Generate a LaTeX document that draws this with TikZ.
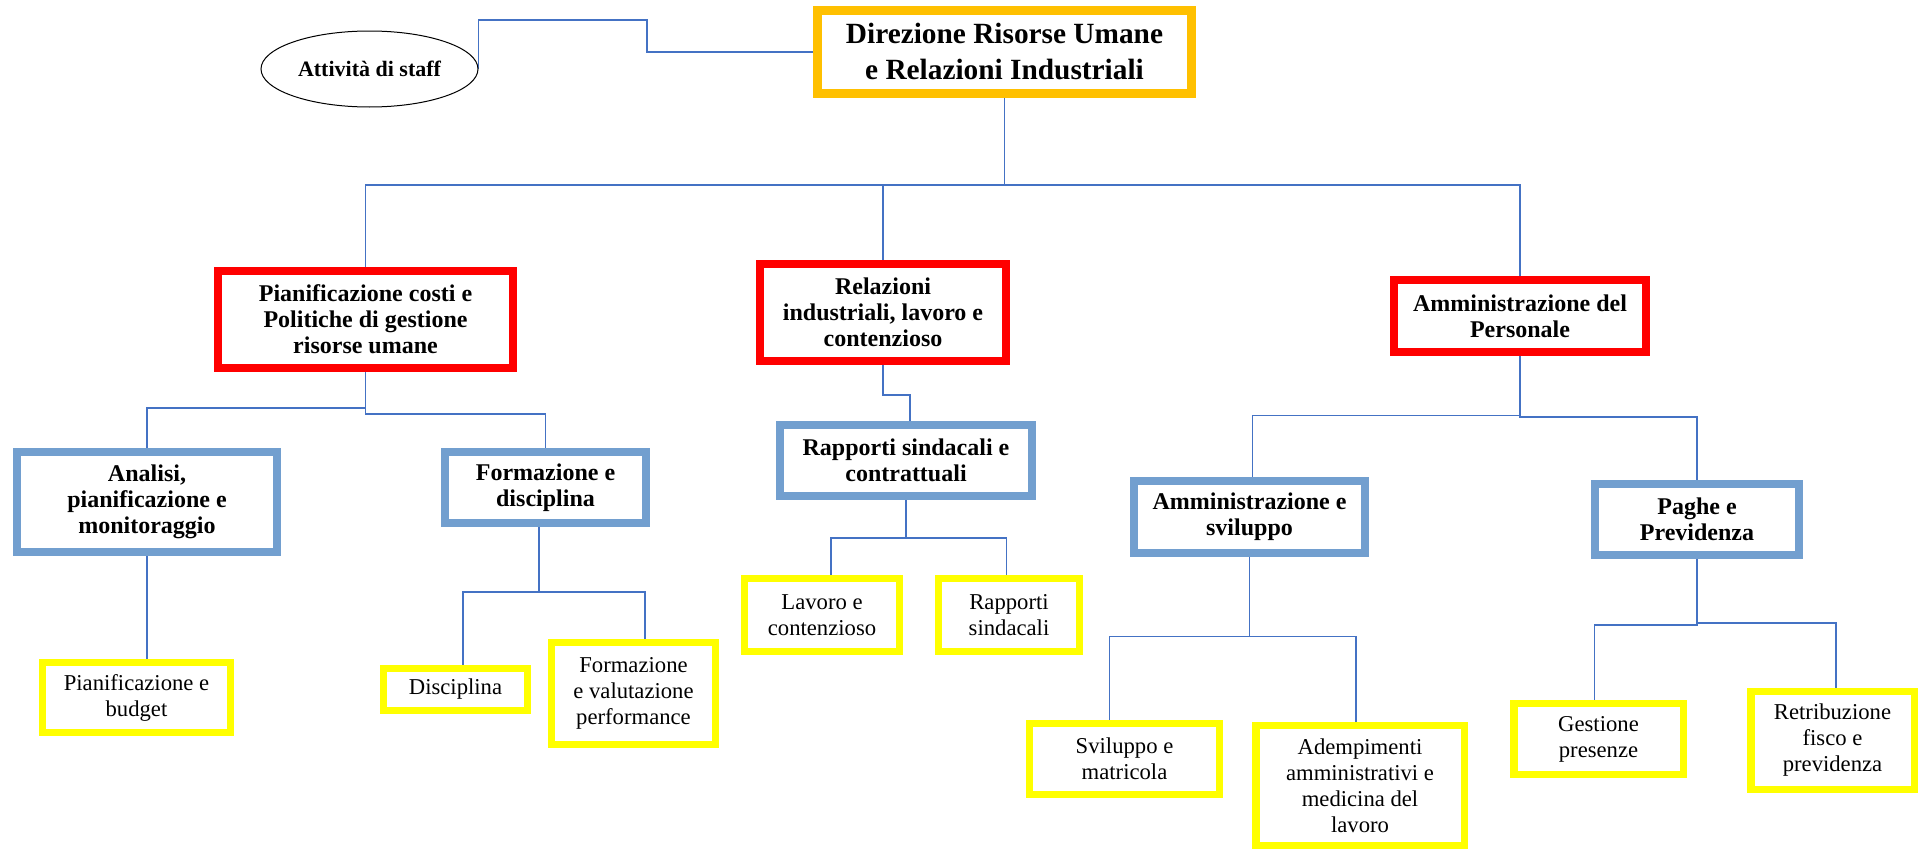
\documentclass[tikz,border=0pt]{standalone}
\usepackage{fontspec}
\setmainfont{Liberation Serif}
\usetikzlibrary{backgrounds,shapes.geometric}
\definecolor{goldc}{RGB}{255,192,0}
\definecolor{redc}{RGB}{255,0,0}
\definecolor{bluec}{RGB}{114,159,207}
\definecolor{yelc}{RGB}{255,255,0}
\definecolor{linec}{RGB}{68,114,196}
\tikzset{
  base/.style={fill=white, align=center, inner sep=0pt},
  sz/.style 2 args={minimum width=#1*0.75pt, minimum height=#2*0.75pt},
  topbox/.style={base, draw=goldc, line width=6.75pt, font=\bfseries\fontsize{22}{27}\selectfont},
  redbox/.style={base, draw=redc, line width=6pt, font=\bfseries\fontsize{18}{19.5}\selectfont},
  bluebox/.style={base, draw=bluec, line width=6pt, font=\bfseries\fontsize{18}{19.5}\selectfont},
  yelbox/.style={base, draw=yelc, line width=5.6pt, font=\fontsize{17}{19.5}\selectfont},
  staffbox/.style={base, ellipse, draw=black, line width=0.75pt, font=\bfseries\fontsize{16.5}{19}\selectfont},
  conn/.style={draw=linec, line width=1pt},
}
\begin{document}
\begin{tikzpicture}[x=0.75pt,y=-0.75pt]
\useasboundingbox (0,0) rectangle (1923,853);

% nodes
\node[topbox, sz={374}{83}] (top) at (1004.5,52) {Direzione Risorse Umane\\e Relazioni Industriali};
\node[staffbox, sz={217}{76}] (staff) at (369.5,69) {Attività di staff};

\node[redbox, sz={295}{97}] (red1) at (365.5,319.5) {Pianificazione costi e\\Politiche di gestione\\risorse umane};
\node[redbox, sz={246}{97}] (red2) at (883,312.5) {Relazioni\\industriali, lavoro e\\contenzioso};
\node[redbox, sz={252}{72}] (red3) at (1520,316) {Amministrazione del\\Personale};

\node[bluebox, sz={260}{100}] (blue1) at (147,502) {Analisi,\\pianificazione e\\monitoraggio};
\node[bluebox, sz={201}{71}] (blue2) at (545.5,487.5) {Formazione e\\disciplina};
\node[bluebox, sz={252}{71}] (blue3) at (906,460.5) {Rapporti sindacali e\\contrattuali};
\node[bluebox, sz={231}{72}] (blue4) at (1249.5,517) {Amministrazione e\\sviluppo};
\node[bluebox, sz={204}{71}] (blue5) at (1697,519.5) {Paghe e\\Previdenza};

\node[yelbox, sz={187.5}{69.5}] (y1) at (136.5,697.5) {Pianificazione e\\budget};
\node[yelbox, sz={143.5}{41.5}] (y2) at (455.5,689.5) {Disciplina};
\node[yelbox, sz={163.5}{101.5}] (y3) at (633.5,693.5) {Formazione\\e valutazione\\performance};
\node[yelbox, sz={154.5}{72.5}] (y4) at (822,615) {Lavoro e\\contenzioso};
\node[yelbox, sz={140.5}{72.5}] (y5) at (1009,615) {Rapporti\\sindacali};
\node[yelbox, sz={189.5}{70.5}] (y6) at (1124.5,759) {Sviluppo e\\matricola};
\node[yelbox, sz={208.5}{119.5}] (y7) at (1360,785.5) {Adempimenti\\amministrativi e\\medicina del\\lavoro};
\node[yelbox, sz={169.5}{70.5}] (y8) at (1598.5,739) {Gestione\\presenze};
\node[yelbox, sz={163.5}{97.5}] (y9) at (1832.5,740.5) {Retribuzione\\fisco e\\previdenza};

% bus levels
\coordinate (s1) at (477.5,20);
\coordinate (s2) at (647,20);
\coordinate (s3) at (647,52);
\coordinate (bTop) at (0,185);
\coordinate (b11) at (0,408);
\coordinate (b12) at (0,414);
\coordinate (b2) at (0,395);
\coordinate (b31) at (0,415.5);
\coordinate (b32) at (0,417);
\coordinate (b4) at (0,538);
\coordinate (b5) at (0,636.5);
\coordinate (b61) at (0,625);
\coordinate (b62) at (0,623);
\coordinate (b7) at (0,592);

\begin{pgfonlayer}{background}
\draw[conn] (staff.east) -- (staff.east |- s1) -- (s2) -- (s3) -- (top.west);

\draw[conn] (top.south) -- (top.south |- bTop) -| (red1.north);
\draw[conn] (top.south) -- (top.south |- bTop) -| (red2.north);
\draw[conn] (top.south) -- (top.south |- bTop) -| (red3.north);

\draw[conn] (red1.south) -- (red1.south |- b11) -| (blue1.north);
\draw[conn] (red1.south) -- (red1.south |- b12) -| (blue2.north);
\draw[conn] (red2.south) -- (red2.south |- b2) -| ([xshift=3pt]blue3.north);
\draw[conn] (red3.south) -- (red3.south |- b31) -| ([xshift=2pt]blue4.north);
\draw[conn] (red3.south) -- (red3.south |- b32) -| (blue5.north);

\draw[conn] (blue1.south) -- (blue1.south |- y1.north);
\draw[conn] ([xshift=-5pt]blue2.south) -- ([xshift=-5pt]blue2.south |- b7) -| ([xshift=5.6pt]y2.north);
\draw[conn] ([xshift=-5pt]blue2.south) -- ([xshift=-5pt]blue2.south |- b7) -| ([xshift=8.6pt]y3.north);
\draw[conn] (blue3.south) -- (blue3.south |- b4) -| ([xshift=6.75pt]y4.north);
\draw[conn] (blue3.south) -- (blue3.south |- b4) -| ([xshift=-2pt]y5.north);
\draw[conn] (blue4.south) -- (blue4.south |- b5) -| ([xshift=-11.25pt]y6.north);
\draw[conn] (blue4.south) -- (blue4.south |- b5) -| ([xshift=-3pt]y7.north);
\draw[conn] (blue5.south) -- (blue5.south |- b61) -| ([xshift=-3pt]y8.north);
\draw[conn] (blue5.south) -- (blue5.south |- b62) -| ([xshift=2.6pt]y9.north);
\end{pgfonlayer}
\end{tikzpicture}
\end{document}
